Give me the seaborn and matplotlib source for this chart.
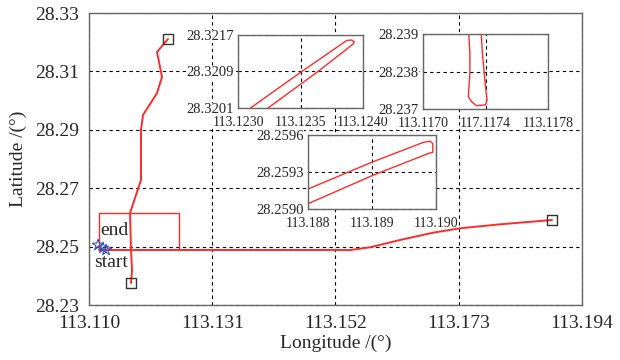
import matplotlib
matplotlib.use("Agg")
import matplotlib.pyplot as plt
import seaborn as sns

# main track, split into three pieces
vert_lon = [113.12346, 113.12159, 113.12210, 113.12244, 113.12159, 113.11920, 113.11886,
            113.11886, 113.11699, 113.11716, 113.11733, 113.11716]
vert_lat = [28.32110, 28.31664, 28.31151, 28.30808, 28.30260, 28.29507, 28.28993,
            28.27281, 28.26151, 28.24884, 28.24199, 28.23753]

east_lon = [113.1117, 113.15209, 113.15447, 113.15788, 113.16299, 113.16861, 113.17321,
            113.18003, 113.18889]
east_lat = [28.24884, 28.24884, 28.24880, 28.24976, 28.25226, 28.25476, 28.25627,
            28.25763, 28.25911]

rect_lon = [113.1117, 113.1117, 113.12534, 113.12534]
rect_lat = [28.24884, 28.26134, 28.26134, 28.24884]

box_lon = [113.12346, 113.11716, 113.18889]
box_lat = [28.32110, 28.23753, 28.25911]

star_lon = [113.11153, 113.11239, 113.11290]
star_lat = [28.25055, 28.24952, 28.24884]

# zoomed pieces
z1_lon = [113.12310, 113.12351, 113.12387, 113.12391, 113.12393, 113.12392, 113.12364, 113.12324]
z1_lat = [28.32010, 28.32090, 28.32158, 28.32159, 28.32155, 28.32150, 28.32090, 28.32010]

z2_lon = [113.11729, 113.11730, 113.11730, 113.11729, 113.11731, 113.11734, 113.11740,
          113.11741, 113.11740, 113.11739, 113.11738, 113.11737]
z2_lat = [28.23920, 28.23849, 28.23795, 28.23733, 28.23720, 28.23709, 28.23711,
          28.23724, 28.23760, 28.23804, 28.23849, 28.23920]

z3_lon = [113.18790, 113.18900, 113.18980, 113.18991, 113.18995, 113.18995, 113.18988,
          113.18900, 113.18790]
z3_lat = [28.25914, 28.25938, 28.25954, 28.25955, 28.25953, 28.25946, 28.25945,
          28.25927, 28.25902]

main_xticks = [113.110, 113.131, 113.152, 113.173, 113.194]
main_yticks = [28.23, 28.25, 28.27, 28.29, 28.31, 28.33]

sns.set_style("white")
plt.rcParams["font.family"] = ["Liberation Serif", "DejaVu Serif"]

red = "#ff2a2a"
grid_kw = dict(color="black", linestyle=(0, (3, 3)), linewidth=0.8)


def style_axes(ax, size, pad):
    for s in ax.spines.values():
        s.set_color("#666666")
        s.set_linewidth(1)
    ax.tick_params(direction="in", length=3, color="#666666", labelsize=size, pad=pad)
    ax.grid(True, **grid_kw)
    ax.set_axisbelow(True)
    ax.set_xlabel("")
    ax.set_ylabel("")


def white_labels(labels):
    for lbl in labels:
        lbl.set_bbox(dict(facecolor="white", edgecolor="none", pad=0))


fig = plt.figure(figsize=(6.2, 3.6), dpi=100)
ax = fig.add_axes([89 / 620, 55 / 360, 493 / 620, 292 / 360])

sns.lineplot(x=vert_lon, y=vert_lat, sort=False, estimator=None, color=red, lw=1.4, ax=ax)
sns.lineplot(x=east_lon, y=east_lat, sort=False, estimator=None, color=red, lw=1.4, ax=ax)
sns.lineplot(x=rect_lon, y=rect_lat, sort=False, estimator=None, color=red, lw=1.0, ax=ax)
sns.scatterplot(x=box_lon, y=box_lat, marker="s", s=55, color="black",
                facecolor="none", edgecolor="#333333", linewidth=1, ax=ax, zorder=4)
sns.scatterplot(x=star_lon, y=star_lat, marker="*", s=70, color="#3355bb",
                facecolor="none", edgecolor="#3355bb", linewidth=0.8, ax=ax, zorder=5)
ax.text(113.11434, 28.25551, "end", fontsize=14, ha="center", va="center")
ax.text(113.11375, 28.24455, "start", fontsize=14, ha="center", va="center")

ax.set_xlim(113.110, 113.194)
ax.set_ylim(28.23, 28.33)
ax.set_xticks(main_xticks)
ax.set_xticklabels([f"{v:.3f}" for v in main_xticks])
ax.set_yticks(main_yticks)
ax.set_yticklabels([f"{v:.2f}" for v in main_yticks])
style_axes(ax, 14, 7)
ax.set_xlabel("Longitude /(°)", fontsize=14, labelpad=2)
ax.set_ylabel("Latitude /(°)", fontsize=14, labelpad=6)

# inset 1: top end
a1 = fig.add_axes([238 / 620, 252 / 360, 125 / 620, 73 / 360])
sns.lineplot(x=z1_lon, y=z1_lat, sort=False, estimator=None, color=red, lw=1.0, ax=a1)
a1.set_xlim(113.1230, 113.1240)
a1.set_ylim(28.3201, 28.3217)
a1.set_xticks([113.1230, 113.1235, 113.1240])
a1.set_xticklabels(["113.1230", "113.1235", "113.1240"])
a1.set_yticks([28.3201, 28.3209, 28.3217])
a1.set_yticklabels(["28.3201", "28.3209", "28.3217"])

# inset 2: bottom end
a2 = fig.add_axes([423 / 620, 251 / 360, 125 / 620, 75 / 360])
sns.lineplot(x=z2_lon, y=z2_lat, sort=False, estimator=None, color=red, lw=1.0, ax=a2)
a2.set_xlim(113.1170, 113.1178)
a2.set_ylim(28.237, 28.239)
a2.set_xticks([113.1170, 113.1174, 113.1178])
a2.set_xticklabels(["113.1170", "117.1174", "113.1178"])
a2.set_yticks([28.237, 28.238, 28.239])
a2.set_yticklabels(["28.237", "28.238", "28.239"])

# inset 3: east end
a3 = fig.add_axes([308 / 620, 151 / 360, 128 / 620, 74 / 360])
sns.lineplot(x=z3_lon, y=z3_lat, sort=False, estimator=None, color=red, lw=1.0, ax=a3)
a3.set_xlim(113.188, 113.190)
a3.set_ylim(28.2590, 28.2596)
a3.set_xticks([113.188, 113.189, 113.190])
a3.set_xticklabels(["113.188", "113.189", "113.190"])
a3.set_yticks([28.2590, 28.2593, 28.2596])
a3.set_yticklabels(["28.2590", "28.2593", "28.2596"])

for a in (a1, a2, a3):
    style_axes(a, 10.5, 3)
    a.tick_params(axis="x", labelsize=10, pad=6)
    white_labels(a.get_yticklabels())
white_labels(a1.get_xticklabels() + a2.get_xticklabels())

fig.savefig("out.png", dpi=100)
